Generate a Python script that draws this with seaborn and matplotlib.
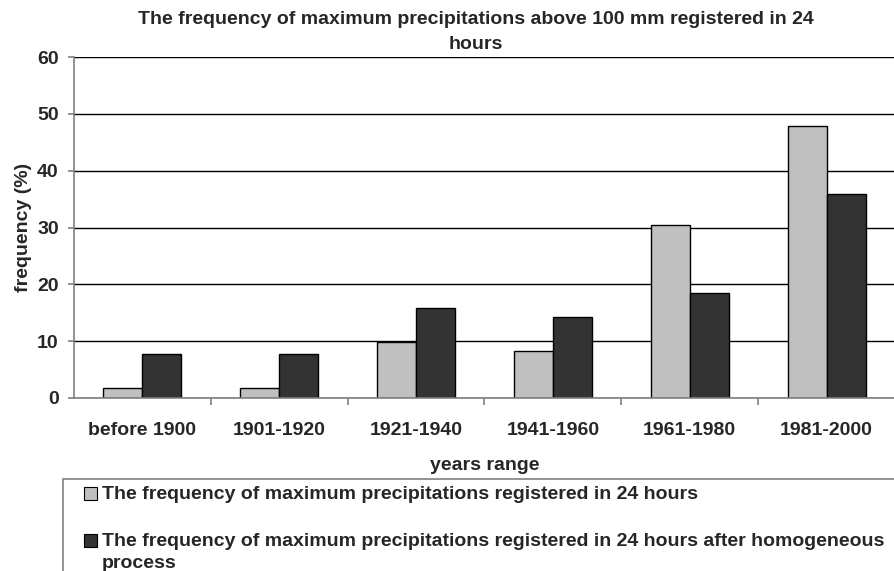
import matplotlib
matplotlib.use("Agg")
import matplotlib.pyplot as plt
import seaborn as sns
import pandas as pd
from matplotlib.patches import Rectangle

categories = ["before 1900", "1901-1920", "1921-1940", "1941-1960", "1961-1980", "1981-2000"]
registered = [1.7, 1.7, 9.9, 8.3, 30.5, 47.9]
homogeneous = [7.7, 7.7, 15.8, 14.2, 18.4, 35.9]
series_names = [
    "The frequency of maximum precipitations registered in 24 hours",
    "The frequency of maximum precipitations registered in 24 hours after homogeneous\nprocess",
]
colors = ["#C0C0C0", "#333333"]
title = "The frequency of maximum precipitations above 100 mm registered in 24\nhours"

df = pd.DataFrame({
    "range": categories * 2,
    "value": registered + homogeneous,
    "series": [series_names[0]] * len(categories) + [series_names[1]] * len(categories),
})

sns.set_theme(style="white")
plt.rcParams["font.family"] = ["Liberation Sans", "DejaVu Sans"]
plt.rcParams["font.weight"] = "bold"

FS = 14
W, H = 894, 571
fig = plt.figure(figsize=(W / 100, H / 100), dpi=100)
ax = fig.add_axes([74 / W, 1 - 398 / H, (895 - 74) / W, (398 - 57) / H])

sns.barplot(data=df, x="range", y="value", hue="series", palette=colors,
            width=0.57, edgecolor="black", linewidth=1.0, ax=ax, legend=False,
            saturation=1, errorbar=None)

ax.set_ylim(0, 60)
ax.set_xlim(-0.5, len(categories) - 0.5)
ax.set_yticks(range(0, 61, 10))
ax.yaxis.grid(True, color="black", linewidth=1.0)
ax.set_axisbelow(True)
for s in ["top", "right"]:
    ax.spines[s].set_visible(False)
for s in ["left", "bottom"]:
    ax.spines[s].set_color("#808080")
    ax.spines[s].set_linewidth(1.2)

# category labels at centers, tick marks at boundaries
ax.set_xticks(range(len(categories)))
ax.set_xticklabels(categories, fontsize=FS, fontweight="bold")
ax.tick_params(axis="x", length=0, pad=17)
ax.set_xticks([i + 0.5 for i in range(len(categories) - 1)], minor=True)
ax.tick_params(axis="x", which="minor", length=5, width=1.2, color="#808080", direction="out", bottom=True)
ax.tick_params(axis="y", length=4, width=1.2, color="#808080", direction="out", left=True, labelsize=FS, pad=7)
for lab in ax.get_yticklabels():
    lab.set_fontweight("bold")

ax.set_xlabel("years range", fontsize=FS, fontweight="bold", labelpad=13)
ax.set_ylabel("frequency (%)", fontsize=FS, fontweight="bold", labelpad=4)
ax.set_title(title, fontsize=FS, fontweight="bold", pad=6, linespacing=1.6, x=0.49)

# legend box (extends beyond the figure edges)
lx0, ly0 = 63, 479
fig.add_artist(Rectangle((lx0 / W, -0.05), 1.05 - lx0 / W, 1 - ly0 / H + 0.05,
                         transform=fig.transFigure, facecolor="white",
                         edgecolor="#808080", linewidth=1.2))
entries_y = [493, 540]
for color, name, yy in zip(colors, series_names, entries_y):
    fig.add_artist(Rectangle((84 / W, 1 - (yy + 6.5) / H), 13 / W, 13 / H,
                             transform=fig.transFigure, facecolor=color,
                             edgecolor="black", linewidth=0.8))
    first_line_top = yy - 7
    fig.text(102 / W, 1 - first_line_top / H, name, fontsize=FS, fontweight="bold",
             va="top", ha="left", linespacing=1.4)

fig.savefig("out.png", dpi=100)
